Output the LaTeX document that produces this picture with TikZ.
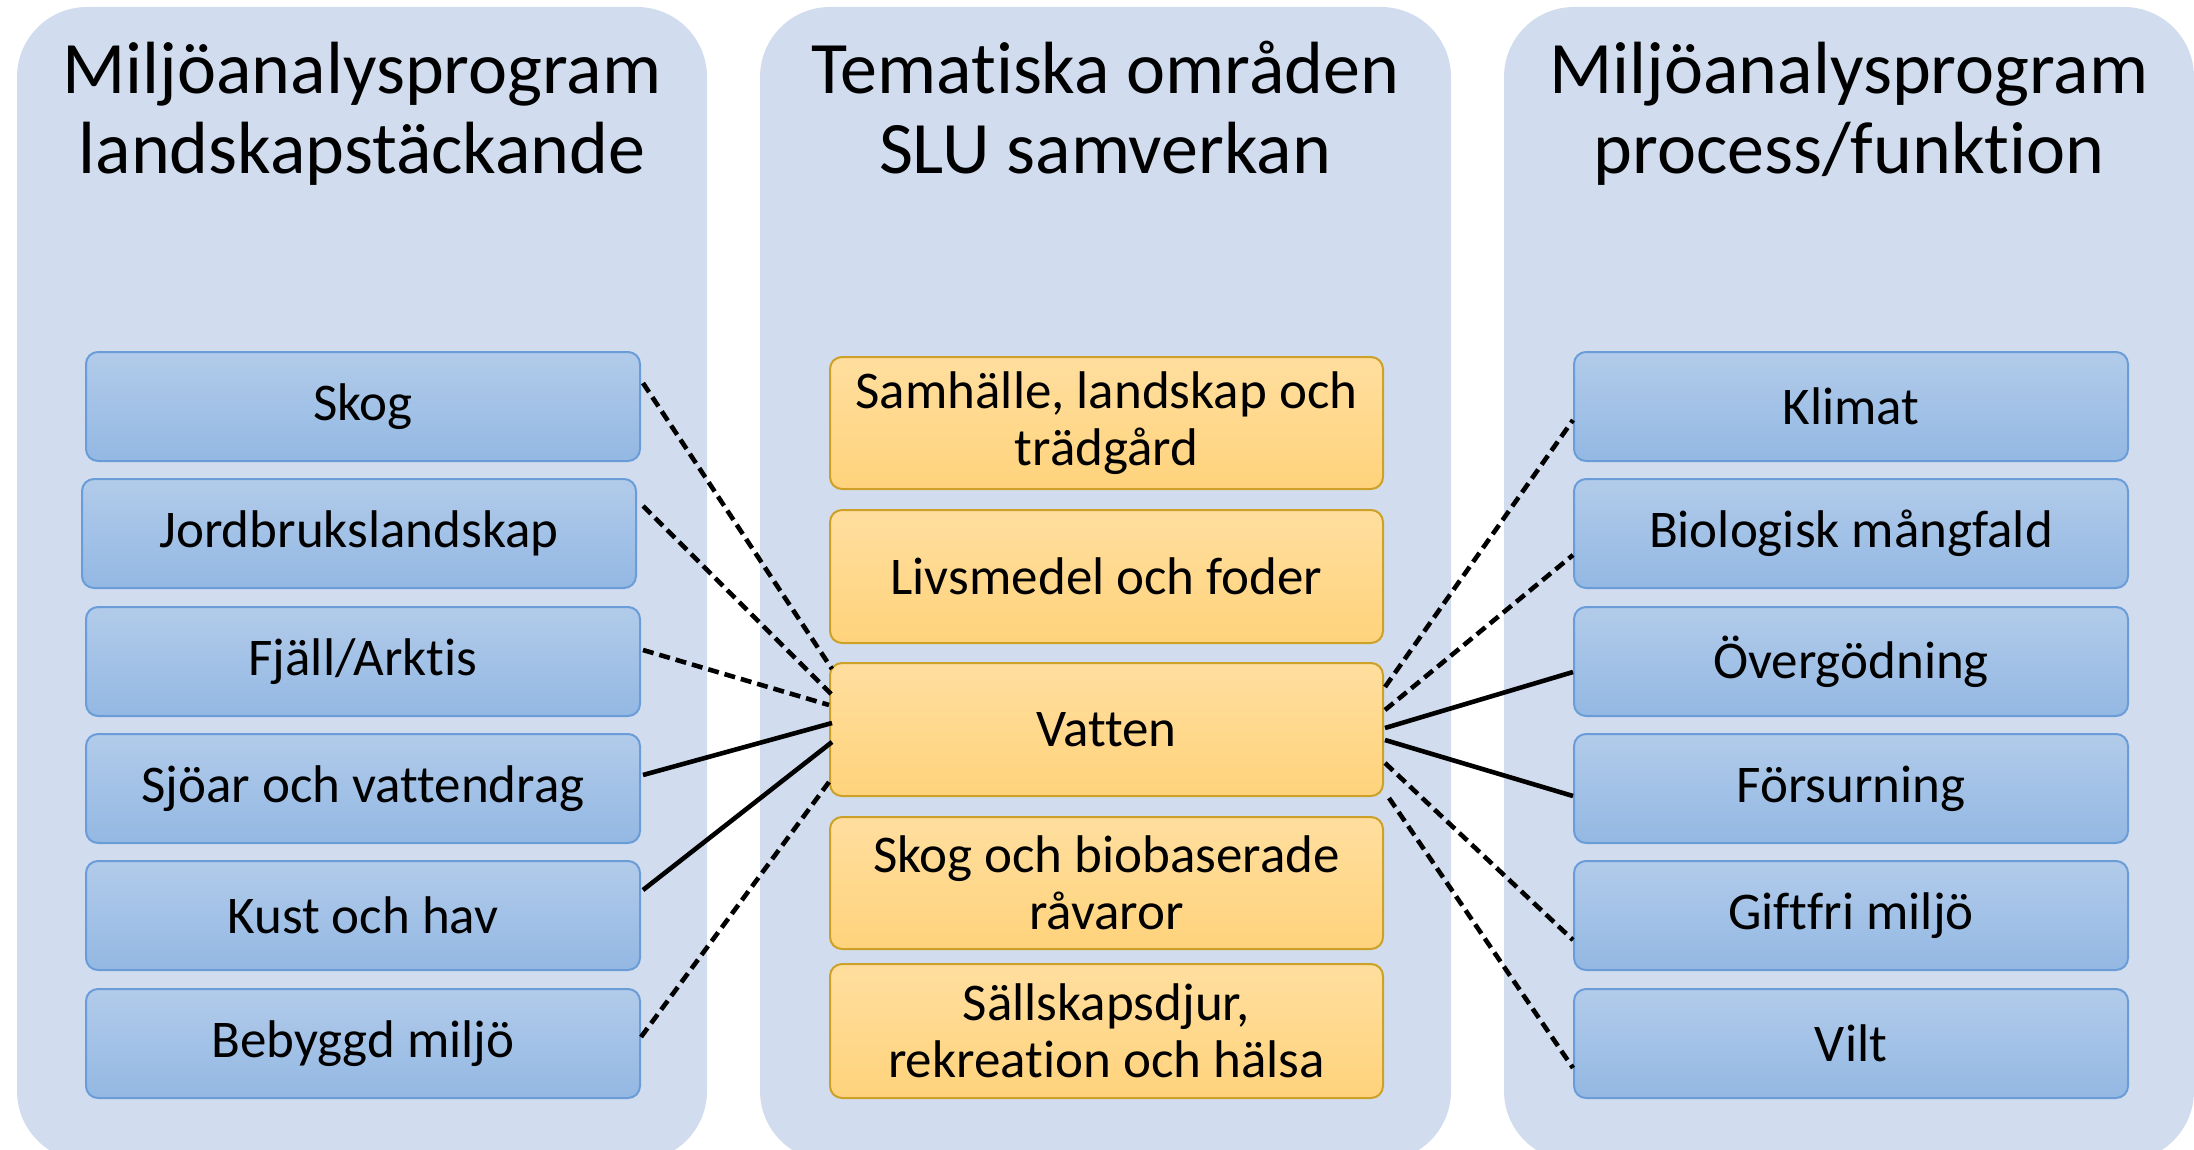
\documentclass[tikz,border=0pt]{standalone}
\usepackage{fontspec}
\setmainfont{Carlito}[Ligatures={NoCommon}]
\usetikzlibrary{calc}
\definecolor{panel}{RGB}{209,221,238}
\definecolor{btop}{RGB}{178,203,234}
\definecolor{bbot}{RGB}{147,184,227}
\definecolor{bline}{RGB}{106,157,216}
\definecolor{otop}{RGB}{255,222,158}
\definecolor{obot}{RGB}{255,211,124}
\definecolor{oline}{RGB}{205,160,40}
\begin{document}
\begin{tikzpicture}[x=1pt,y=-1pt,
  panelbox/.style={fill=panel, rounded corners=70pt},
  titletext/.style={font=\fontsize{74}{80}\selectfont, align=center, inner sep=0pt},
  bluebox/.style={draw=bline, line width=2pt, rounded corners=12pt, top color=btop, bottom color=bbot,
    minimum width=554pt, minimum height=109pt, inner sep=0pt, anchor=north west,
    font=\fontsize{53}{57}\selectfont, align=center},
  orangebox/.style={draw=oline, line width=2pt, rounded corners=12pt, top color=otop, bottom color=obot,
    minimum width=553pt, minimum height=133pt, inner sep=0pt, anchor=north west,
    font=\fontsize{53}{57}\selectfont, align=center},
  link/.style={line width=4.6pt},
  dlink/.style={line width=4.6pt, dash pattern=on 11pt off 6pt}]
\useasboundingbox (0,0) rectangle (2194,1150);
\clip (0,0) rectangle (2194,1150);
% panels
\path[panelbox] (17,7) rectangle (707,1161);
\path[panelbox] (760,7) rectangle (1451,1161);
\path[panelbox] (1504,7) rectangle (2194,1161);
% titles
\node[titletext] (t1) at (362,118) {\strut Miljöanalysprogram\\\strut landskapstäckande};
\node[titletext] (t2) at (1105,118) {\strut Tematiska områden\\\strut SLU samverkan};
\node[titletext] (t3) at (1849,118) {\strut Miljöanalysprogram\\\strut process/funktion};
% left boxes
\node[bluebox] (skog) at (85,351) {Skog};
\node[bluebox] (jord) at (81,478) {Jordbrukslandskap};
\node[bluebox] (fjall) at (85,606) {Fjäll/Arktis};
\node[bluebox] (sjoar) at (85,733) {Sjöar och vattendrag};
\node[bluebox] (kust) at (85,860) {Kust och hav};
\node[bluebox] (beb) at (85,988) {Bebyggd miljö};
% middle boxes
\node[orangebox, minimum height=132pt] (samh) at (829,356) {Samhälle, landskap och\\trädgård};
\node[orangebox] (livs) at (829,509) {Livsmedel och foder};
\node[orangebox] (vatten) at (829,662) {Vatten};
\node[orangebox, minimum height=132pt] (skbio) at (829,816) {Skog och biobaserade\\råvaror};
\node[orangebox, minimum height=134pt] (sall) at (829,963) {Sällskapsdjur,\\rekreation och hälsa};
% right boxes
\node[bluebox] (klimat) at (1573,351) {Klimat};
\node[bluebox] (bio) at (1573,478) {Biologisk mångfald};
\node[bluebox] (overg) at (1573,606) {Övergödning};
\node[bluebox] (fors) at (1573,733) {Försurning};
\node[bluebox] (gift) at (1573,860) {Giftfri miljö};
\node[bluebox] (vilt) at (1573,988) {Vilt};
% left connectors
\draw[dlink] ($(skog.north east)+(2,32)$) -- ($(vatten.north west)+(3,7)$);
\draw[dlink] ($(jord.north east)+(6,28)$) -- ($(vatten.north west)+(3,33)$);
\draw[dlink] ($(fjall.north east)+(2,44)$) -- ($(vatten.north west)+(0,43)$);
\draw[link] ($(sjoar.north east)+(2,42)$) -- ($(vatten.north west)+(3,61)$);
\draw[link] ($(kust.north east)+(2,30)$) -- ($(vatten.north west)+(3,80)$);
\draw[dlink] ($(beb.north east)+(0,49)$) -- ($(vatten.north west)+(0,120)$);
% right connectors
\draw[dlink] ($(vatten.north east)+(1,25)$) -- ($(klimat.north west)+(0,69)$);
\draw[dlink] ($(vatten.north east)+(1,48)$) -- ($(bio.north west)+(0,77)$);
\draw[link] ($(vatten.north east)+(1,66)$) -- ($(overg.north west)+(0,66)$);
\draw[link] ($(vatten.north east)+(1,78)$) -- ($(fors.north west)+(0,63)$);
\draw[dlink] ($(vatten.north east)+(1,101)$) -- ($(gift.north west)+(0,80)$);
\draw[dlink] ($(vatten.north east)+(5,136)$) -- ($(vilt.north west)+(0,80)$);
\end{tikzpicture}
\end{document}
